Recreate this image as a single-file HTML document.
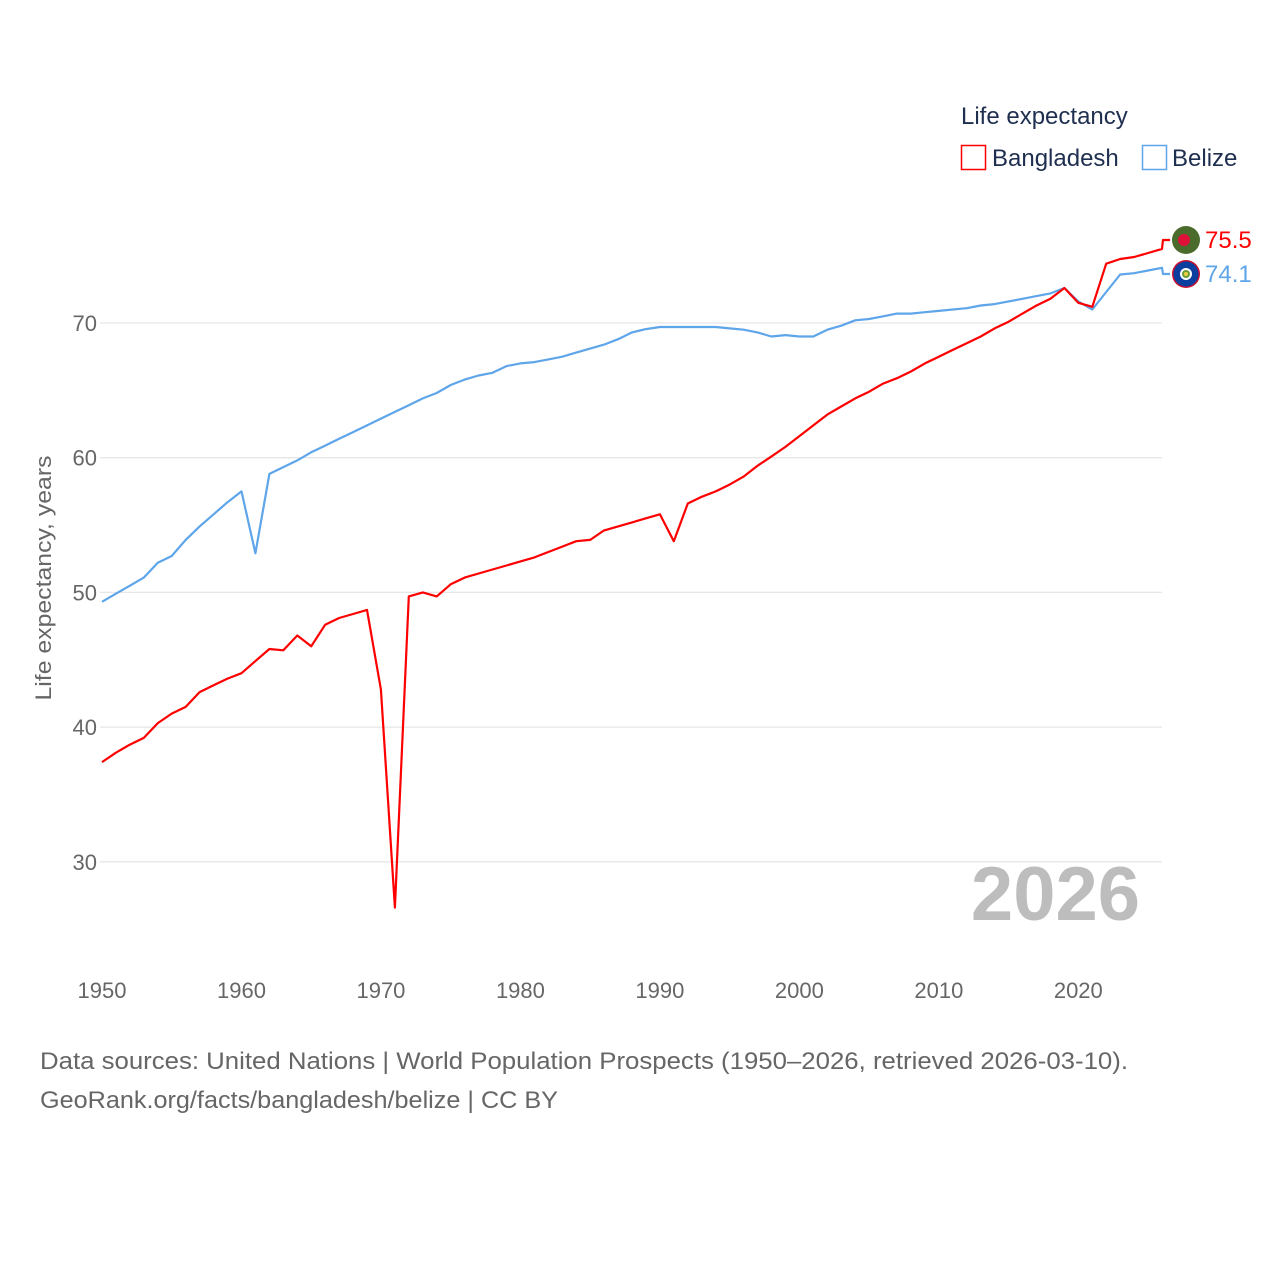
<!DOCTYPE html>
<html><head><meta charset="utf-8"><style>
body{margin:0;background:#fff;}
svg text{font-family:"Liberation Sans",sans-serif;}
</style></head><body>
<svg id="chart" width="1280" height="1280" xmlns="http://www.w3.org/2000/svg">
<g id="grid"></g>
<g id="yticks"></g>
<g id="xticks"></g>
<text transform="translate(51,578) rotate(-90)" text-anchor="middle" font-size="22" fill="#666" textLength="245" lengthAdjust="spacingAndGlyphs">Life expectancy, years</text>
<text x="1140" y="920" text-anchor="end" font-size="76" font-weight="bold" fill="#bdbdbd">2026</text>
<g id="series"></g>
<g>
<text x="961" y="124" font-size="24" fill="#1f2f4f">Life expectancy</text>
<rect x="961.5" y="145.5" width="24" height="24" fill="none" stroke="#ff0000" stroke-width="1.5"/>
<text x="992" y="166" font-size="24" fill="#1f2f4f">Bangladesh</text>
<rect x="1142.5" y="145.5" width="24" height="24" fill="none" stroke="#5ea5ea" stroke-width="1.5"/>
<text x="1172" y="166" font-size="24" fill="#1f2f4f">Belize</text>
</g>
<g>
<circle cx="1186" cy="240" r="14" fill="#4a6b2c"/><circle cx="1184" cy="240" r="6" fill="#e0103a"/>
</g>
<g>
<circle cx="1186" cy="274" r="14" fill="#c8102e"/><circle cx="1186" cy="274" r="12.5" fill="#0a3fa0"/><circle cx="1186" cy="274" r="6" fill="#fff"/><circle cx="1186" cy="274" r="4" fill="#6a9a3a"/><circle cx="1186" cy="274" r="2" fill="#f0d040"/>
</g>
<text x="1205" y="248" font-size="24" fill="#ff0000">75.5</text>
<text x="1205" y="282" font-size="24" fill="#5ea5ea">74.1</text>
<text x="40" y="1069" font-size="24" fill="#666" textLength="1088" lengthAdjust="spacingAndGlyphs">Data sources: United Nations | World Population Prospects (1950–2026, retrieved 2026-03-10).</text>
<text x="40" y="1108" font-size="24" fill="#666" textLength="518" lengthAdjust="spacingAndGlyphs">GeoRank.org/facts/bangladesh/belize | CC BY</text>
</svg>
<script>
const years=[];for(let y=1950;y<=2026;y++)years.push(y);
const bangladesh=[37.4,38.1,38.7,39.2,40.3,41.0,41.5,42.6,43.1,43.6,44.0,44.9,45.8,45.7,46.8,46.0,47.6,48.1,48.4,48.7,42.8,26.6,49.7,50.0,49.7,50.6,51.1,51.4,51.7,52.0,52.3,52.6,53.0,53.4,53.8,53.9,54.6,54.9,55.2,55.5,55.8,53.8,56.6,57.1,57.5,58.0,58.6,59.4,60.1,60.8,61.6,62.4,63.2,63.8,64.4,64.9,65.5,65.9,66.4,67.0,67.5,68.0,68.5,69.0,69.6,70.1,70.7,71.3,71.8,72.6,71.5,71.2,74.4,74.75,74.9,75.2,75.5];
const belize=[49.3,49.9,50.5,51.1,52.2,52.7,53.9,54.9,55.8,56.7,57.5,52.9,58.8,59.3,59.8,60.4,60.9,61.4,61.9,62.4,62.9,63.4,63.9,64.4,64.8,65.4,65.8,66.1,66.3,66.8,67.0,67.1,67.3,67.5,67.8,68.1,68.4,68.8,69.3,69.55,69.7,69.7,69.7,69.7,69.7,69.6,69.5,69.3,69.0,69.1,69.0,69.0,69.5,69.8,70.2,70.3,70.5,70.7,70.7,70.8,70.9,71.0,71.1,71.3,71.4,71.6,71.8,72.0,72.2,72.6,71.6,71.0,72.3,73.6,73.7,73.9,74.1];
const yTicks=[30,40,50,60,70];
const xTicks=[1950,1960,1970,1980,1990,2000,2010,2020];
const NS="http://www.w3.org/2000/svg";
function xs(yr){return 102+(yr-1950)*(1162-102)/76;}
function ys(v){return 323+(70-v)*13.47;}
function mk(tag,attrs,parent){const e=document.createElementNS(NS,tag);for(const k in attrs)e.setAttribute(k,attrs[k]);parent.appendChild(e);return e;}
const grid=document.getElementById('grid'),yt=document.getElementById('yticks'),xt=document.getElementById('xticks'),ser=document.getElementById('series');
yTicks.forEach(t=>{
 const l=mk('line',{x1:100,x2:1162,y1:ys(t),y2:ys(t),stroke:'#e6e6e6','stroke-width':1.3},grid);
 
 
 const tx=mk('text',{x:97,y:ys(t)+8,'text-anchor':'end','font-size':22,fill:'#666'},yt);
 tx.textContent=t;
 
 
});
xTicks.forEach(t=>{
 const tx=mk('text',{x:xs(t),y:998,'text-anchor':'middle','font-size':22,fill:'#666'},xt);
 tx.textContent=t;
 
 
});
function line(vals,color,name,labelY){
 let d=vals.map((v,i)=>(i?'L':'M')+xs(years[i]).toFixed(1)+','+ys(v).toFixed(1)).join(' ');
 const lastX=xs(years[years.length-1]);
 d+=' L'+(lastX+1)+','+labelY+' L'+(lastX+8)+','+labelY;
 const p=mk('path',{d:d,fill:'none',stroke:color,'stroke-width':2.2,'stroke-linejoin':'round'},ser);
 
 
}
line(belize,'#5ea5ea','belize-line',274);
line(bangladesh,'#ff0000','bangladesh-line',240);
</script>
</body></html>
